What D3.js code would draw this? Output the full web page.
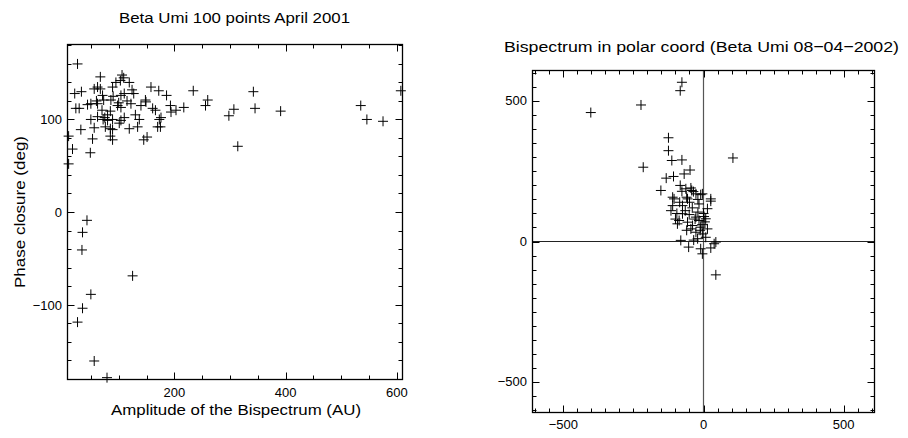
<!DOCTYPE html>
<html><head><meta charset="utf-8">
<script src="https://cdn.jsdelivr.net/npm/d3@7"></script>
<style>body{margin:0;background:#fff}svg{display:block}text{font-family:"Liberation Sans",Arial,sans-serif;fill:#000}</style>
</head><body>
<script>
// Left plot: amplitude (AU) vs phase closure (deg)
const leftAmp = [26,67,106,103,109,119,124,62,67,56,89,158,172,186,234,21,33,71,104,110,127,148,149,260,256,23,29,44,50,62,73,86,98,104,122,161,166,193,194,203,217,298,307,342,345,391,535,546,575,607,314,50,62,72,75,80,89,85,104,110,137,176,173,32,56,76,85,89,101,119,134,170,175,53,85,89,145,151,17,49,10,10,43,35,34,125,50,35,26,56,79,100,95,80,115,70,130,90,60,140];
const leftPhase = [160,146,148,142,145,140,132,135,133,133,135,135,131,126,131,128,130,126,126,128,128,121,119,121,115,112,112,116,117,117,121,121,115,113,117,112,110,115,108,110,113,104,111,130,112,109,115,100,98,131,71,100,103,100,102,99,100,109,99,102,100,102,100,89,91,92,90,89,96,90,92,92,92,79,82,78,78,81,68,64,82,52,-9,-22,-41,-69,-89,-104,-119,-161,-179,118,140,105,120,110,105,125,120,115];
// Right plot: bispectrum in polar coordinates
const polarX = [-77,-83,-223,-402,-125,-125,-113,-77,105,-215,-48,-107,-133,-69,-152,-83,-63,-45,-36,-10,-77,-110,-60,26,-42,-27,-4,-105,-57,26,-110,-116,-75,-16,14,-75,-51,-27,2,-87,-93,-57,-39,-16,8,-10,-45,14,-27,-4,8,-21,-81,-53,-10,-4,26,38,44,44,-95,-65,-40,-20,-5,-60,-30,-50,-85,0,-12,-35,-100,-20,5];
const polarY = [568,538,487,460,370,324,289,291,298,265,255,232,226,241,182,200,188,191,178,167,179,158,158,152,182,170,170,152,152,144,128,110,128,134,117,99,96,87,89,75,63,69,57,75,81,51,45,45,33,27,15,10,4,-20,-26,-44,-23,-8,-2,-119,100,110,120,105,60,40,80,140,140,100,40,5,80,150,70];

const leftXTicks = [200,400,600];
const leftYTicks = [-100,0,100];
const polarTicks = [-500,0,500];

const W = 908, H = 438;
const svg = d3.select("body").append("svg").attr("width", W).attr("height", H);

function fmt(v){ return v < 0 ? "\u2212" + Math.abs(v) : String(v); }

function frame(g, x, y, xMajor, xMinorStep, yMajor, yMinorStep){
  const [x0,x1] = x.range(), [y1,y0] = y.range();
  const [dx0,dx1] = x.domain(), [dy0,dy1] = y.domain();
  const tk = g.append("g").attr("stroke","#000").attr("stroke-width",1);
  const minX = d3.range(Math.ceil(dx0/xMinorStep)*xMinorStep, dx1+1e-9, xMinorStep);
  const minY = d3.range(Math.ceil(dy0/yMinorStep)*yMinorStep, dy1+1e-9, yMinorStep);
  minX.forEach(v=>{
    const L = xMajor.includes(v) ? 7 : 4, px = Math.round(x(v))+0.5;
    tk.append("line").attr("x1",px).attr("x2",px).attr("y1",y1).attr("y2",y1-L);
    tk.append("line").attr("x1",px).attr("x2",px).attr("y1",y0).attr("y2",y0+L);
  });
  minY.forEach(v=>{
    const L = yMajor.includes(v) ? 7 : 4, py = Math.round(y(v))+0.5;
    tk.append("line").attr("y1",py).attr("y2",py).attr("x1",x0).attr("x2",x0+L);
    tk.append("line").attr("y1",py).attr("y2",py).attr("x1",x1).attr("x2",x1-L);
  });
  g.append("rect").attr("x",x0).attr("y",y0).attr("width",x1-x0).attr("height",y1-y0)
    .attr("fill","none").attr("stroke","#000").attr("stroke-width",1.3);
}

function plus(g, xs, ys, x, y){
  const s = 5;
  g.append("path").attr("fill","none").attr("stroke","#000").attr("stroke-width",1)
    .attr("d", xs.map((v,i)=>{const px=x(v), py=y(ys[i]);
      return `M${px-s},${py}H${px+s}M${px},${py-s}V${py+s}`;}).join(""));
}

function label(g, x, y, txt, size, len, rot){
  const t = g.append("text").attr("text-anchor","middle").attr("font-size",size)
    .attr("textLength",len).attr("lengthAdjust","spacingAndGlyphs").text(txt);
  if (rot) t.attr("transform",`translate(${x},${y}) rotate(-90)`);
  else t.attr("x",x).attr("y",y);
  return t;
}

// ---- Left plot
const xL = d3.scaleLinear().domain([8,610]).range([67.5,402.5]);
const yL = d3.scaleLinear().domain([-181,181]).range([379.5,44.5]);
const gL = svg.append("g");
frame(gL, xL, yL, leftXTicks, 50, leftYTicks, 20);
plus(gL, leftAmp, leftPhase, xL, yL);
gL.selectAll(".xt").data(leftXTicks).join("text").attr("x",d=>xL(d)).attr("y",397)
  .attr("text-anchor","middle").attr("font-size",13).text(fmt);
gL.selectAll(".yt").data(leftYTicks).join("text").attr("x",62).attr("y",d=>yL(d)+5)
  .attr("text-anchor","end").attr("font-size",13).text(fmt);
label(gL, 234.5, 23.3, "Beta Umi 100 points April 2001", 15.5, 231);
label(gL, 236, 415, "Amplitude of the Bispectrum (AU)", 15.5, 250);
label(gL, 25, 212, "Phase closure (deg)", 15.5, 152, true);

// ---- Right plot
const xR = d3.scaleLinear().domain([-610,610]).range([532.5,874.5]);
const yR = d3.scaleLinear().domain([-610,610]).range([412.5,70.5]);
const gR = svg.append("g");
gR.append("line").attr("x1",xR(0)).attr("x2",xR(0)).attr("y1",yR(-610)).attr("y2",yR(610))
  .attr("stroke","#555").attr("stroke-width",1.2);
gR.append("line").attr("y1",yR(0)).attr("y2",yR(0)).attr("x1",xR(-610)).attr("x2",xR(610))
  .attr("stroke","#222").attr("stroke-width",1.2);
frame(gR, xR, yR, polarTicks, 50, polarTicks, 50);
plus(gR, polarX, polarY, xR, yR);
gR.selectAll(".xt").data(polarTicks).join("text").attr("x",d=>xR(d)).attr("y",429)
  .attr("text-anchor","middle").attr("font-size",13).text(fmt);
gR.selectAll(".yt").data(polarTicks).join("text").attr("x",527).attr("y",d=>yR(d)+4)
  .attr("text-anchor","end").attr("font-size",13).text(fmt);
label(gR, 701.5, 52.3, "Bispectrum in polar coord (Beta Umi 08\u221204\u22122002)", 15.5, 395);
</script>
</body></html>
